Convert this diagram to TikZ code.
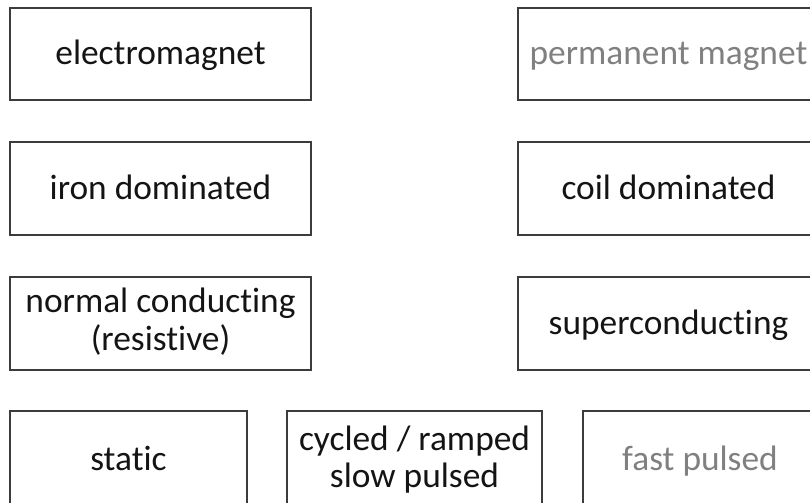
\documentclass[tikz,border=0pt]{standalone}
\usepackage{fontspec}
\setmainfont{Carlito}[Ligatures=NoCommon]
\definecolor{edgec}{RGB}{60,60,60}
\definecolor{dimtext}{RGB}{128,128,128}
\definecolor{maintext}{RGB}{20,20,20}
\begin{document}
\begin{tikzpicture}[x=1bp,y=-1bp,
  box/.style={draw=edgec, line width=1.4bp, rectangle, inner sep=0pt,
    minimum width=301bp, minimum height=92bp, text=maintext,
    font=\fontsize{35.5}{37}\selectfont, text height=22bp, text depth=0bp},
  dim/.style={text=dimtext},
  twoline/.style={text depth=#1},
]
\useasboundingbox (0,0) rectangle (810,503);
\clip (0,0) rectangle (810,503);
\node[box] (em) at (160.5,54) {electromagnet};
\node[box,dim] (pm) at (668.5,54) {permanent magnet};
\node[box,minimum height=93bp] (iron) at (160.5,188.5) {iron dominated};
\node[box,minimum height=93bp] (coil) at (668.5,188.5) {coil dominated};
\node[box,minimum height=93bp,twoline=43bp] (nc) at (160.5,323.5)
  {\begin{tabular}[t]{@{}c@{}}normal conducting\\[1bp](resistive)\end{tabular}};
\node[box,minimum height=93bp] (sc) at (668.5,323.5) {superconducting};
\node[box,minimum width=237bp,minimum height=96bp] (st) at (128.5,459) {static};
\node[box,minimum width=255bp,minimum height=96bp,twoline=40bp] (cy) at (414.5,459)
  {\begin{tabular}[t]{@{}c@{}}cycled / ramped\\[1bp]slow pulsed\end{tabular}};
\node[box,dim,minimum width=234bp,minimum height=96bp] (fp) at (700,459) {fast pulsed};
\end{tikzpicture}
\end{document}
